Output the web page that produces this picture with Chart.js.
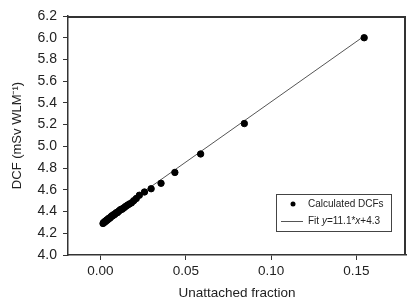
<!DOCTYPE html>
<html>
<head>
<meta charset="utf-8">
<script src="https://cdn.jsdelivr.net/npm/chart.js@4/dist/chart.umd.min.js"></script>
<style>
  html, body { margin: 0; padding: 0; background: #fff; }
  #wrap { width: 411px; height: 301px; }
</style>
</head>
<body>
<div id="wrap"><canvas id="dcfChart" width="411" height="301"></canvas></div>
<script>
// Calculated DCFs
const fractions = [0.0015, 0.0019, 0.0023, 0.0027, 0.0031, 0.0035, 0.0039, 0.0043, 0.0047, 0.0051,
                   0.0056, 0.0061, 0.0066, 0.0071, 0.0076, 0.0081, 0.0087, 0.0093, 0.0099, 0.0105,
                   0.0112, 0.0119, 0.0126, 0.0134, 0.0142, 0.0150, 0.0160, 0.0170, 0.0182, 0.0195,
                   0.0210, 0.0228, 0.0258, 0.0297, 0.0355, 0.0436, 0.0587, 0.0843, 0.1545];
const dcfs = [4.29, 4.30, 4.30, 4.31, 4.31, 4.32, 4.32, 4.33, 4.33, 4.34,
              4.34, 4.35, 4.36, 4.36, 4.37, 4.37, 4.38, 4.39, 4.39, 4.40,
              4.41, 4.42, 4.42, 4.43, 4.44, 4.45, 4.46, 4.47, 4.48, 4.50,
              4.52, 4.55, 4.58, 4.61, 4.66, 4.76, 4.93, 5.21, 6.00];

// Fit line end points
const fitX = [0.0015, 0.1545];
const fitY = [4.317, 6.015];

const xTicks = [0, 0.05, 0.10, 0.15];
const yTicks = [4.0, 4.2, 4.4, 4.6, 4.8, 5.0, 5.2, 5.4, 5.6, 5.8, 6.0, 6.2];

const points = fractions.map((x, i) => ({ x: x, y: dcfs[i] }));
const fitLine = fitX.map((x, i) => ({ x: x, y: fitY[i] }));

const FONT = "'Liberation Sans', Arial, sans-serif";

// top/right frame lines and the legend panel
const legendPlugin = {
    id: 'legendBox',
    afterDraw(chart) {
        const c = chart.ctx;
        const a = chart.chartArea;
        c.save();
        c.fillStyle = '#333';
        c.fillRect(a.left, a.top, a.right - a.left, 2);
        c.fillRect(a.right - 2, a.top, 2, a.bottom - a.top);

        const lx = 276, ly = 194, lw = 115, lh = 37;
        c.fillStyle = '#fff';
        c.fillRect(lx, ly, lw, lh);
        c.strokeStyle = '#444';
        c.lineWidth = 1;
        c.strokeRect(lx + 0.5, ly + 0.5, lw, lh);

        c.fillStyle = '#000';
        c.beginPath();
        c.arc(293, 204, 2.5, 0, Math.PI * 2);
        c.fill();

        c.strokeStyle = '#555';
        c.beginPath();
        c.moveTo(281, 221.5);
        c.lineTo(303, 221.5);
        c.stroke();

        c.fillStyle = '#222';
        c.textBaseline = 'middle';
        c.font = '10px ' + FONT;
        c.fillText('Calculated DCFs', 308, 204);

        // Fit y=11.1*x+4.3 with italic variables
        let tx = 308;
        const parts = [['Fit ', false], ['y', true], ['=11.1*', false], ['x', true], ['+4.3', false]];
        parts.forEach(p => {
            c.font = (p[1] ? 'italic ' : '') + '10px ' + FONT;
            c.fillText(p[0], tx, 221);
            tx += c.measureText(p[0]).width;
        });
        c.restore();
    }
};

const ctx = document.getElementById('dcfChart').getContext('2d');
new Chart(ctx, {
    type: 'scatter',
    data: {
        datasets: [
            {
                label: 'Fit y=11.1*x+4.3',
                data: fitLine,
                showLine: true,
                borderColor: '#555',
                borderWidth: 1,
                pointRadius: 0,
                order: 2
            },
            {
                label: 'Calculated DCFs',
                data: points,
                backgroundColor: '#000',
                borderColor: '#000',
                pointRadius: 3.2,
                order: 1
            }
        ]
    },
    plugins: [legendPlugin],
    options: {
        responsive: false,
        animation: false,
        layout: { padding: { top: 16, right: 3, left: 0, bottom: 0 } },
        plugins: {
            legend: { display: false },
            tooltip: { enabled: false }
        },
        scales: {
            x: {
                type: 'linear',
                min: -0.019,
                max: 0.179,
                afterFit: s => { s.height = 46; },
                afterBuildTicks: s => { s.ticks = xTicks.map(v => ({ value: v })); },
                ticks: {
                    padding: 3,
                    color: '#222',
                    font: { family: FONT, size: 13.5 },
                    callback: v => v.toFixed(2)
                },
                grid: { drawOnChartArea: false, tickLength: 5, color: '#333' },
                border: { color: '#333', width: 1.5 },
                title: {
                    display: true,
                    text: 'Unattached fraction',
                    color: '#222',
                    font: { family: FONT, size: 13.5 },
                    padding: { top: 1, bottom: 0 }
                }
            },
            y: {
                min: 4.0,
                max: 6.2,
                afterFit: s => { s.width = 68; },
                afterBuildTicks: s => { s.ticks = yTicks.map(v => ({ value: v })); },
                ticks: {
                    padding: 6,
                    color: '#222',
                    font: { family: FONT, size: 14 },
                    callback: v => v.toFixed(1)
                },
                grid: { drawOnChartArea: false, tickLength: 5, color: '#333' },
                border: { color: '#333', width: 1.5 },
                title: {
                    display: true,
                    text: 'DCF (mSv WLM\u207B\u00B9)',
                    color: '#222',
                    font: { family: FONT, size: 13 },
                    padding: { top: 10, bottom: 0 }
                }
            }
        }
    }
});
</script>
</body>
</html>
